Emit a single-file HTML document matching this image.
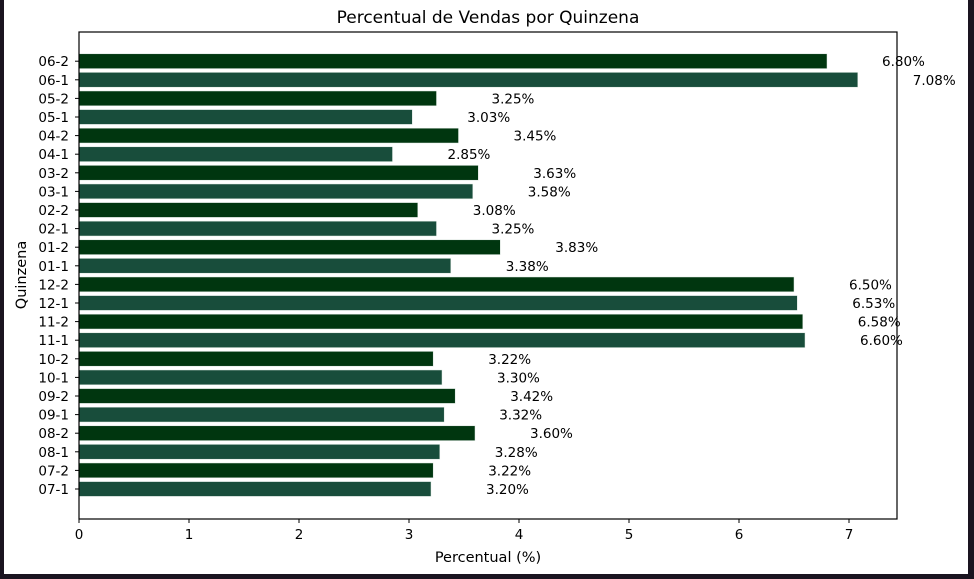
<!DOCTYPE html>
<html><head><meta charset="utf-8"><style>
html,body{margin:0;padding:0;background:#1a1420;}
svg{display:block;font-family:"DejaVu Sans","Liberation Sans",sans-serif;}
</style></head><body>
<svg id="chart" width="974" height="579">
<rect x="4" y="0" width="964" height="574" fill="#fff"/>
<g id="bars"></g>
<rect x="79" y="32" width="818" height="487" fill="none" stroke="#000" stroke-width="1.2"/>
<g id="axes"></g>
<text x="488" y="23" text-anchor="middle" font-size="17">Percentual de Vendas por Quinzena</text>
<text x="488" y="562" text-anchor="middle" font-size="14.5">Percentual (%)</text>
<text transform="translate(26,275) rotate(-90)" text-anchor="middle" font-size="14.5">Quinzena</text>
</svg>
<script>
const categories=["07-1","07-2","08-1","08-2","09-1","09-2","10-1","10-2","11-1","11-2","12-1","12-2","01-1","01-2","02-1","02-2","03-1","03-2","04-1","04-2","05-1","05-2","06-1","06-2"];
const values=[3.20,3.22,3.28,3.60,3.32,3.42,3.30,3.22,6.60,6.58,6.53,6.50,3.38,3.83,3.25,3.08,3.58,3.63,2.85,3.45,3.03,3.25,7.08,6.80];
const xTicks=[0,1,2,3,4,5,6,7];
const NS="http://www.w3.org/2000/svg";
const x=v=>79+v*110;
const y=i=>489-i*18.6;
const bars=document.getElementById('bars'),axes=document.getElementById('axes');
function mk(t,a,p){const e=document.createElementNS(NS,t);for(const k in a)e.setAttribute(k,a[k]);p.appendChild(e);return e;}
categories.forEach((c,i)=>{
  const b=mk('rect',{x:x(0),y:y(i)-7.4,width:x(values[i])-x(0),height:14.8,fill:i%2?'#00360f':'#184d3b',stroke:'#dfe9e3','stroke-width':0.5},bars);
  
  
  const l=mk('text',{x:x(values[i]+0.5),y:y(i)+5,'font-size':13.5},bars);
  l.textContent=values[i].toFixed(2)+'%';
  
  
  mk('line',{x1:75,x2:79,y1:y(i),y2:y(i),stroke:'#000'},axes);
  const t=mk('text',{x:69,y:y(i)+5,'text-anchor':'end','font-size':13.5},axes);
  t.textContent=c;
  
  
});
xTicks.forEach(v=>{
  mk('line',{x1:x(v),x2:x(v),y1:519,y2:523,stroke:'#000'},axes);
  const t=mk('text',{x:x(v),y:539,'text-anchor':'middle','font-size':13.5},axes);
  t.textContent=v;
  
  
});
</script>
</body></html>
